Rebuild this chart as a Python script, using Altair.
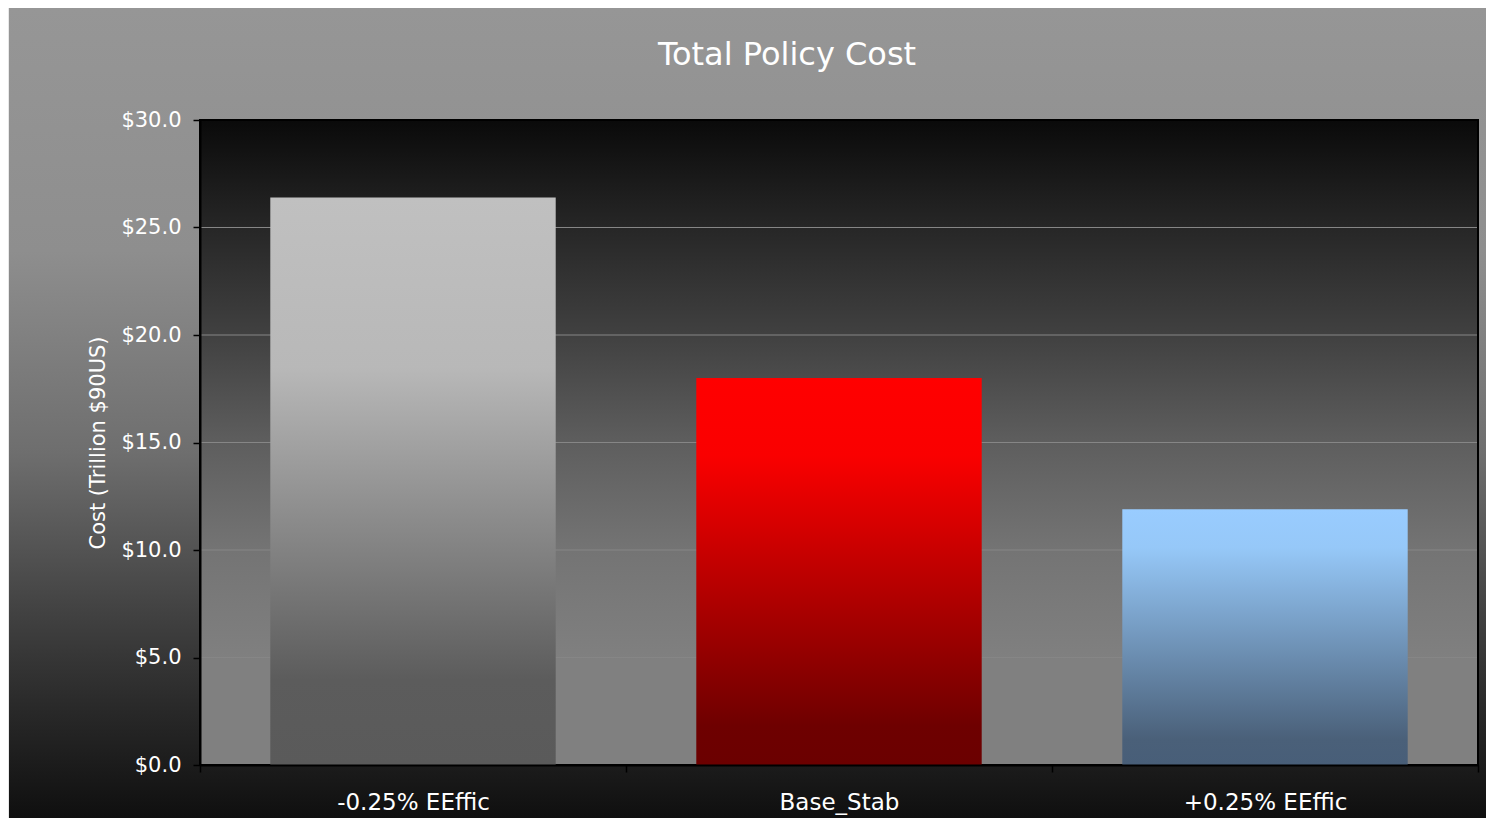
import altair as alt
import pandas as pd

# ---- data ----
categories = ["-0.25% EEffic", "Base_Stab", "+0.25% EEffic"]
costs = [26.4, 18.0, 11.9]
y_ticks = [0, 5, 10, 15, 20, 25, 30]
grid_values = [5, 10, 15, 20, 25]
chart_title = "Total Policy Cost"
y_title = "Cost (Trillion $90US)"

W, H = 1278, 645
FONT = "DejaVu Sans"

df = pd.DataFrame({"scenario": categories, "cost": costs})
grid_df = pd.DataFrame({"cost": grid_values})
one = pd.DataFrame({"k": [0]})


def grad(stops):
    return alt.LinearGradient(
        gradient="linear", x1=0, y1=0, x2=0, y2=1,
        stops=[alt.GradientStop(offset=o, color=c) for o, c in stops],
    )


outer_grad = grad([(0, "#969696"), (0.30, "#8e8e8e"), (0.55, "#6e6e6e"),
                   (0.735, "#444444"), (0.86, "#2a2a2a"), (1, "#0f0f0f")])
plot_grad = grad([(0, "#0a0a0a"), (0.164, "#262626"), (0.33, "#404040"),
                  (0.5, "#5e5e5e"), (0.667, "#747474"), (0.837, "#808080"),
                  (1, "#808080")])
bar_grads = [
    grad([(0, "#c0c0c0"), (0.3, "#b8b8b8"), (0.85, "#5c5c5c"), (1, "#5a5a5a")]),
    grad([(0, "#ff0000"), (0.2, "#fa0000"), (0.9, "#6e0000"), (1, "#6b0000")]),
    grad([(0, "#99ccff"), (0.15, "#96c8f8"), (0.9, "#4a6079"), (1, "#485e78")]),
]

y_scale = alt.Scale(domain=[0, 30], nice=False, zero=True)
x_scale = alt.Scale(domain=categories, paddingInner=0, paddingOuter=0)

y_axis = alt.Axis(values=y_ticks, format="$.1f", labelFont=FONT,
                  labelFontSize=21, labelColor="#ffffff", labelPadding=12,
                  tickColor="#000000", tickSize=7, tickWidth=1.5,
                  domainColor="#000000", domainWidth=2, grid=False,
                  titleFont=FONT, titleFontSize=21, titleColor="#ffffff",
                  titleFontWeight="normal", titlePadding=12, zindex=1)
x_axis = alt.Axis(labelFont=FONT, labelFontSize=23, labelColor="#ffffff",
                  labelAngle=0, labelPadding=19, tickBand="extent",
                  tickColor="#000000", tickSize=7, tickWidth=1.5,
                  domainColor="#000000", domainWidth=2, grid=False, zindex=1)

outer_bg = alt.Chart(one).mark_rect(fill=outer_grad, clip=False).encode(
    x=alt.value(-191), x2=alt.value(W + 8), y=alt.value(-112), y2=alt.value(H + 53)
)
plot_bg = alt.Chart(one).mark_rect(fill=plot_grad, stroke="#000000", strokeWidth=2).encode(
    x=alt.value(0), x2=alt.value(W), y=alt.value(0), y2=alt.value(H)
)
title_text = alt.Chart(one).mark_text(
    text=chart_title, font=FONT, fontSize=32, color="#ffffff",
    align="center", baseline="alphabetic", clip=False,
).encode(x=alt.value(587), y=alt.value(-55))

grid = alt.Chart(grid_df).mark_rule(color="#868686", strokeWidth=1).encode(
    y=alt.Y("cost:Q", scale=y_scale, title=y_title, axis=y_axis),
    x=alt.value(1), x2=alt.value(W - 1),
)

bar_layers = []
for cat, g in zip(categories, bar_grads):
    bar_layers.append(
        alt.Chart(df).transform_filter(alt.datum.scenario == cat)
        .mark_bar(fill=g, stroke=None, width=alt.RelativeBandSize(0.67))
        .encode(
            x=alt.X("scenario:N", scale=x_scale, sort=categories, title=None, axis=x_axis),
            y=alt.Y("cost:Q", scale=y_scale, title=y_title, axis=y_axis),
        )
    )

chart = alt.layer(outer_bg, plot_bg, grid, *bar_layers, title_text).properties(
    width=W, height=H,
    background="#e8e8e8",
    padding={"left": 192, "top": 112, "right": 8, "bottom": 53},
    autosize=alt.AutoSizeParams(type="none"),
).configure_view(stroke=None)

chart.save("out.html", embed_options={"renderer": "svg", "actions": False})
